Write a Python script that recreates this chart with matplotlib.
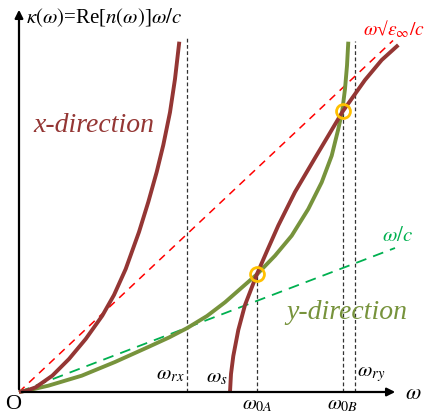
import matplotlib.pyplot as plt

plt.rcParams['mathtext.fontset'] = 'stix'
plt.rcParams['font.family'] = ['Liberation Serif', 'DejaVu Serif']

#### data (frame units: omega to the right, kappa up, origin at O) ####
# x-direction branch below omega_rx
x_low_w = [0, 8, 16.7, 33.3, 50, 66.7, 83.3, 95, 106.7, 120, 129.3, 137.7, 144.3, 151, 156, 160.3]
x_low_k = [0, 1.5, 4.7, 16.3, 33, 53, 76.3, 97, 123, 160, 190, 220, 247, 279.7, 313, 350.3]

# x-direction branch above omega_s
x_high_w = [211, 212, 214.3, 219.3, 226, 238, 248, 259.3, 276, 296, 324, 346, 362.7, 379.3]
x_high_k = [0, 18, 36, 62, 87, 118, 141, 166.5, 200, 234, 281, 312, 332, 347]

# y-direction branch
y_w = [0, 14, 29.3, 62.7, 96, 129.3, 150, 168.3, 188, 206, 222.3, 238.3, 256, 272.7, 289.3,
       302.7, 312.7, 319.3, 323.3, 326, 328, 329.3]
y_k = [0, 2.8, 6.3, 16.3, 30, 45, 54.5, 64, 76, 89.7, 104, 118, 136.3, 156.3, 183,
       209.7, 236.3, 263, 281.3, 303, 326.3, 350.3]

# light lines: (omega_end, kappa_end)
light_eps = (374, 351.5)
light_vac = (376, 144)

# characteristic frequencies and heights of their marker lines
w_rx, w_0A, w_0B, w_ry = 168.3, 238.5, 323.7, 336
top_rx, top_0A, top_0B, top_ry = 356, 118, 281.3, 351

# crossings
cross_w = [238.3, 323.7]
cross_k = [118, 281.3]

brown = '#943634'
olive = '#77933C'

fig = plt.figure(figsize=(4.25, 4.14), dpi=100)
ax = fig.add_axes([0, 0, 1, 1])
ax.set_xlim(-19, 406)
ax.set_ylim(-21, 393)
ax.axis('off')

# axes arrows
ax.annotate('', xy=(0, 385), xytext=(0, 0),
            arrowprops=dict(arrowstyle='-|>', color='black', lw=1.6, mutation_scale=12))
ax.annotate('', xy=(379, 0), xytext=(0, 0),
            arrowprops=dict(arrowstyle='-|>', color='black', lw=1.6, mutation_scale=12))

# vertical marker lines
for w, t in [(w_rx, top_rx), (w_0A, top_0A), (w_0B, top_0B), (w_ry, top_ry)]:
    ax.plot([w, w], [0, t], ls=(0, (3, 2)), color='#333333', lw=0.9)

# light lines
ax.plot([0, light_eps[0]], [0, light_eps[1]], ls=(0, (5, 4)), color='#FF0000', lw=1.1)
ax.plot([0, light_vac[0]], [0, light_vac[1]], ls=(0, (6, 4)), color='#00B050', lw=1.3)

# dispersion curves
ax.plot(y_w, y_k, color=olive, lw=2.8, solid_capstyle='butt', solid_joinstyle='round')
ax.plot(x_low_w, x_low_k, color=brown, lw=2.8, solid_capstyle='butt', solid_joinstyle='round')
ax.plot(x_high_w, x_high_k, color=brown, lw=2.8, solid_capstyle='butt', solid_joinstyle='round')

ax.plot(cross_w, cross_k, 'o', ms=10, mfc='none', mec='#FFC000', mew=2)

# text
ax.text(7, 375, r'$\kappa(\omega)$=Re[$n(\omega)$]$\omega/c$', fontsize=15, ha='left', va='center')
ax.text(75, 268, 'x-direction', color=brown, fontsize=20, style='italic', ha='center', va='center')
ax.text(327.5, 80, 'y-direction', color=olive, fontsize=20, style='italic', ha='center', va='center')
ax.text(375, 364, r'$\omega$√$\varepsilon_\infty/c$', color='#FF0000', fontsize=14, ha='center', va='center')
ax.text(378, 156, r'$\omega/c$', color='#00B050', fontsize=15, ha='center', va='center')
ax.text(151, 18, r'$\omega_{rx}$', fontsize=15, ha='center', va='center')
ax.text(198, 15, r'$\omega_s$', fontsize=15, ha='center', va='center')
ax.text(238.5, -11.5, r'$\omega_{0A}$', fontsize=14.5, ha='center', va='center')
ax.text(324, -11.5, r'$\omega_{0B}$', fontsize=14.5, ha='center', va='center')
ax.text(352.5, 18, r'$\omega_{ry}$', fontsize=15, ha='center', va='center')
ax.text(394, -2, r'$\omega$', fontsize=16, ha='center', va='center')
ax.text(-6, -12, 'O', fontsize=16, ha='center', va='center')

fig.savefig('out.png', dpi=100)
